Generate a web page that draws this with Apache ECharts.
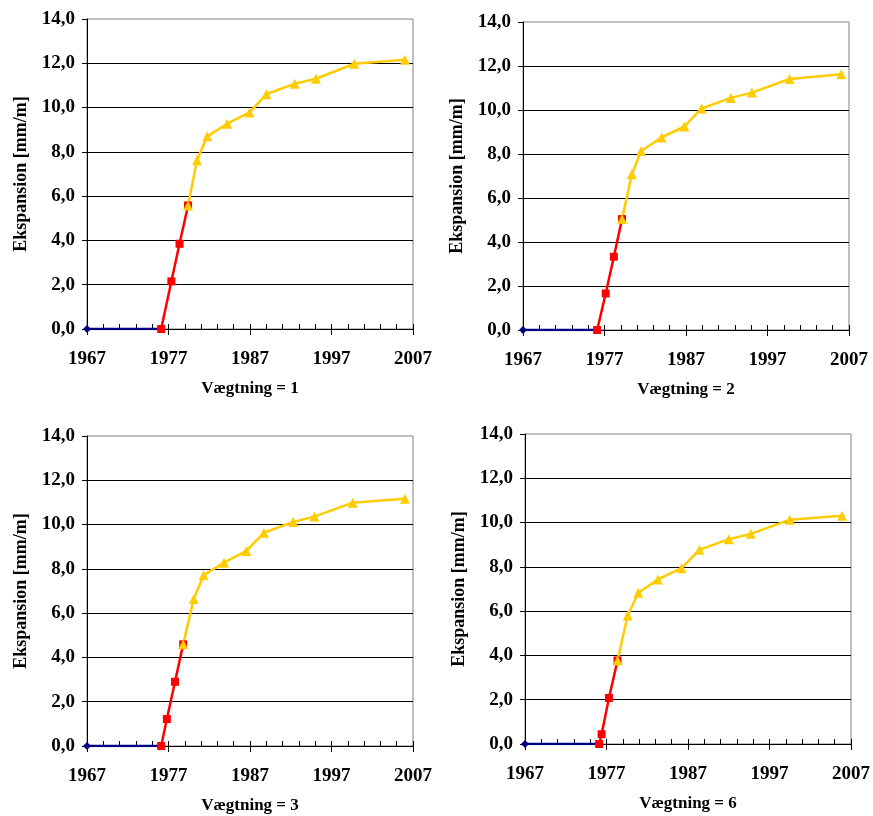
<!DOCTYPE html>
<html lang="da">
<head>
    <meta charset="UTF-8">
    <script type="text/javascript" src="https://cdn.jsdelivr.net/npm/echarts@6/dist/echarts.min.js"></script>
    <style>
        html, body { margin: 0; padding: 0; background: #fff; }
    </style>
</head>
<body>
    <div id="chart" style="width: 873px;height: 816px;"></div>
</body>

<script>
    // akser
    var xTicks = [1967, 1977, 1987, 1997, 2007];
    var yTicks = [0, 2, 4, 6, 8, 10, 12, 14];
    var panelTitles = ["Vægtning = 1", "Vægtning = 2", "Vægtning = 3", "Vægtning = 6"];

    // blaa serie (ingen ekspansion)
    var blueX = [1967, 1976.1];
    var blueY = [0, 0];

    // Vægtning = 1
    var redX1 = [1976.1, 1977.35, 1978.35, 1979.4];
    var redY1 = [0, 2.15, 3.85, 5.58];
    var yellowX1 = [1979.4, 1980.5, 1981.75, 1984.2, 1986.95, 1989.0, 1992.5, 1995.1, 1999.8, 2006.0];
    var yellowY1 = [5.58, 7.62, 8.70, 9.27, 9.78, 10.6, 11.08, 11.3, 11.98, 12.16];

    // Vægtning = 2
    var redX2 = [1976.1, 1977.15, 1978.15, 1979.15];
    var redY2 = [0, 1.66, 3.33, 5.04];
    var yellowX2 = [1979.15, 1980.35, 1981.5, 1984.0, 1986.8, 1988.9, 1992.5, 1995.1, 1999.7, 2006.05];
    var yellowY2 = [5.04, 7.08, 8.14, 8.75, 9.25, 10.07, 10.55, 10.79, 11.41, 11.62];

    // Vægtning = 3
    var redX3 = [1976.1, 1976.8, 1977.8, 1978.8];
    var redY3 = [0, 1.22, 2.9, 4.59];
    var yellowX3 = [1978.8, 1980.1, 1981.3, 1983.8, 1986.55, 1988.7, 1992.3, 1994.9, 1999.6, 2006.0];
    var yellowY3 = [4.59, 6.64, 7.71, 8.28, 8.81, 9.63, 10.12, 10.36, 10.99, 11.17];

    // Vægtning = 6
    var redX4 = [1976.1, 1976.4, 1977.3, 1978.35];
    var redY4 = [0, 0.44, 2.08, 3.77];
    var yellowX4 = [1978.35, 1979.6, 1980.9, 1983.3, 1986.2, 1988.4, 1992.0, 1994.7, 1999.5, 2005.9];
    var yellowY4 = [3.77, 5.80, 6.83, 7.43, 7.94, 8.77, 9.25, 9.49, 10.13, 10.31];

    var redX = [redX1, redX2, redX3, redX4];
    var redY = [redY1, redY2, redY3, redY4];
    var yellowX = [yellowX1, yellowX2, yellowX3, yellowX4];
    var yellowY = [yellowY1, yellowY2, yellowY3, yellowY4];

    // placering af de fire plot
    var grids = [
        {left: 87, top: 19, width: 326, height: 310},
        {left: 523, top: 22, width: 326, height: 308},
        {left: 87, top: 436, width: 326, height: 310},
        {left: 525, top: 434, width: 329, height: 310}
    ];

    var FONT = "'Liberation Serif', 'Times New Roman', serif";

    function zip(xs, ys) {
        var out = [];
        for (var i = 0; i < xs.length; i++) out.push([xs[i], ys[i]]);
        return out;
    }

    var option = {
        backgroundColor: '#fff',
        animation: false,
        grid: [],
        xAxis: [],
        yAxis: [],
        series: []
    };

    for (var p = 0; p < 4; p++) {
        var g = grids[p];
        option.grid.push({
            left: g.left, top: g.top, width: g.width, height: g.height,
            show: true, borderColor: '#808080', borderWidth: 1, backgroundColor: 'transparent'
        });

        // hovedakse med tal og ydre streger
        option.xAxis.push({
            type: 'value', gridIndex: p, position: 'bottom',
            min: xTicks[0], max: xTicks[xTicks.length - 1], interval: 10,
            name: panelTitles[p], nameLocation: 'middle', nameGap: 51,
            nameTextStyle: {fontFamily: FONT, fontWeight: 'bold', fontSize: 17, color: '#000'},
            axisLine: {show: true, onZero: false, lineStyle: {color: '#000', width: 1}},
            axisTick: {show: true, inside: false, length: 6, lineStyle: {color: '#000'}},
            axisLabel: {
                fontFamily: FONT, fontWeight: 'bold', fontSize: 19, color: '#000', margin: 21,
                formatter: function (v) { return String(v); }
            },
            splitLine: {show: false}
        });
        // hjaelpeakse med smaa streger hvert 2. aar (lagt oeverst, flyttet ned til bunden)
        option.xAxis.push({
            type: 'value', gridIndex: p, position: 'top', offset: -g.height,
            min: xTicks[0], max: xTicks[xTicks.length - 1], interval: 2,
            axisLine: {show: false, onZero: false},
            axisTick: {show: true, inside: false, length: 5, lineStyle: {color: '#000'}},
            axisLabel: {show: false},
            splitLine: {show: false}
        });

        option.yAxis.push({
            type: 'value', gridIndex: p,
            min: yTicks[0], max: yTicks[yTicks.length - 1], interval: 2,
            name: 'Ekspansion [mm/m]', nameLocation: 'middle', nameGap: 57,
            nameTextStyle: {fontFamily: FONT, fontWeight: 'bold', fontSize: 18, color: '#000'},
            axisLine: {show: true, lineStyle: {color: '#000', width: 1}},
            axisTick: {show: true, inside: false, length: 5, lineStyle: {color: '#000'}},
            axisLabel: {
                fontFamily: FONT, fontWeight: 'bold', fontSize: 19, color: '#000', margin: 12,
                formatter: function (v) { return v.toFixed(1).replace('.', ','); }
            },
            splitLine: {show: true, showMaxLine: false, lineStyle: {color: '#000', width: 1}}
        });

        var xi = p * 2;
        option.series.push({
            type: 'line', xAxisIndex: xi, yAxisIndex: p,
            data: zip(blueX, blueY),
            symbol: 'diamond', symbolSize: 8,
            lineStyle: {color: '#000080', width: 2.5},
            itemStyle: {color: '#000080'}
        });
        option.series.push({
            type: 'line', xAxisIndex: xi, yAxisIndex: p,
            data: zip(redX[p], redY[p]),
            symbol: 'rect', symbolSize: 8,
            lineStyle: {color: '#FF0000', width: 2.5},
            itemStyle: {color: '#FF0000'}
        });
        option.series.push({
            type: 'line', xAxisIndex: xi, yAxisIndex: p,
            data: zip(yellowX[p], yellowY[p]),
            symbol: 'triangle', symbolSize: 10,
            lineStyle: {color: '#FFCC00', width: 2.5},
            itemStyle: {color: '#FFCC00'}
        });
    }

    var chart = echarts.init(document.getElementById("chart"));
    chart.setOption(option);
</script>
</html>
